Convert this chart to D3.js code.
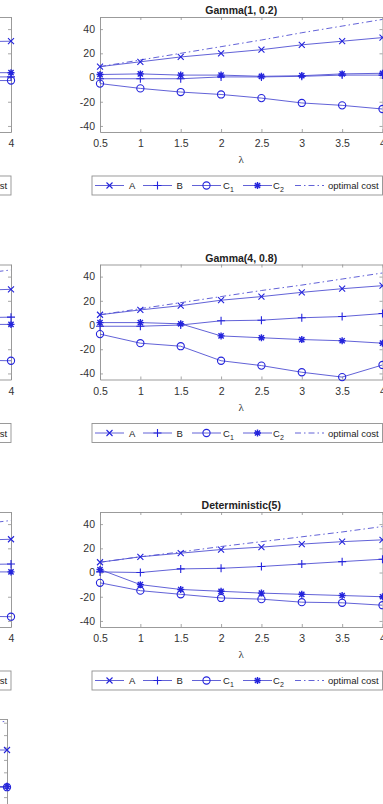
<!DOCTYPE html>
<html>
<head>
<meta charset="utf-8">
<script src="https://cdn.jsdelivr.net/npm/d3@7"></script>
<style>
  body { margin: 0; background: #fff; }
  svg { display: block; }
</style>
</head>
<body>
<svg id="chart" width="383" height="804"></svg>
<script>
	/* data */
	var lambda = [0.5, 1, 1.5, 2, 2.5, 3, 3.5, 4];
	var xTickLabels = ["0.5", "1", "1.5", "2", "2.5", "3", "3.5", "4"];
	var yTicks = [-40, -20, 0, 20, 40];
	var titles = ["Gamma(1, 0.2)", "Gamma(4, 0.8)", "Deterministic(5)"];
	var seriesNames = ["A", "B", "C1", "C2", "optimal cost"];

	var gamma1A   = [9, 13, 17, 20, 23, 27, 30, 33];
	var gamma1B   = [-1, -1, -1, 0.5, 0.5, 1, 2, 2];
	var gamma1C1  = [-5, -9, -12, -14, -17, -21, -23, -26];
	var gamma1C2  = [2.5, 3, 2, 2, 1, 1.5, 3, 3.5];
	var gamma1Opt = [9, 14.5, 20, 25.5, 31, 37, 42.5, 48];

	var gamma4A   = [8.5, 12.5, 16, 20.5, 23.5, 27, 30, 32.5];
	var gamma4B   = [-1, -1, 0, 3.5, 4, 6, 7, 9.5];
	var gamma4C1  = [-7.5, -15, -17.5, -29.5, -33.5, -39, -43, -33];
	var gamma4C2  = [2, 2, 1, -9, -10.5, -12, -13, -15];
	var gamma4Opt = [8.5, 13.5, 18.5, 23.5, 28.5, 33, 38, 43];

	var detA   = [8.5, 13, 16, 19, 21, 23.5, 25.5, 27];
	var detB   = [0.5, 0, 3, 3.5, 5, 7, 9, 11];
	var detC1  = [-8.5, -15, -18, -21, -22, -24.5, -25, -27];
	var detC2  = [2.5, -10, -14, -15.5, -17, -18, -19, -20];
	var detOpt = [8.5, 13, 17, 21.5, 25.5, 29.5, 33.5, 38];

	/* left column is cut off: only the last two points show */
	var tailLambda = [3.5, 4];
	var left1A = [29.5, 30], left1B = [0.5, 0.5], left1C1 = [-2.5, -2.5], left1C2 = [4, 4], left1Opt = [53, 57];
	var left2A = [28.5, 29.5], left2B = [6, 6.5], left2C1 = [-29, -29.5], left2C2 = [0.5, 0.5], left2Opt = [41.5, 45.5];
	var left3A = [26.5, 27.5], left3B = [6.5, 7], left3C1 = [-36, -36.5], left3C2 = [0.5, 0.5], left3Opt = [39, 43];
	var left4A = [38, 38], left4B = [8.5, 8.5], left4C1 = [8, 8], left4C2 = [8.5, 8.5], left4Opt = [60, 61];
	var left4Ticks = [0, 10, 20, 30, 40, 50, 60];

	var lineColor = "#5050d2", markColor = "#2424dc", boxColor = "#909090", textColor = "#333";
	var rowStep = 247.5;

	var svg = d3.select("#chart");

	var markers = {
		A:  "M-3,-3L3,3M-3,3L3,-3",
		B:  "M-4,0H4M0,-4V4",
		C1: "M3.6,0A3.6,3.6 0 1 1 -3.6,0A3.6,3.6 0 1 1 3.6,0",
		C2: "M-3.5,0H3.5M0,-3.5V3.5M-2.6,-2.6L2.6,2.6M-2.6,2.6L2.6,-2.6"
	};
	var clipId = 0;

	function drawPanel(p) {
		var g = svg.append("g");
		var x = d3.scaleLinear().domain([0.5, 4]).range([p.x0, p.x1]);
		var y = d3.scaleLinear().domain(p.yDomain).range([p.bottom, p.top]);

		// box with inward ticks on all four sides (plain hyphen minus like matlab)
		g.append("g").attr("transform", "translate(" + p.x0 + ",0)")
			.call(d3.axisLeft(y).tickValues(p.yTicks).tickSizeInner(-3).tickSizeOuter(0).tickPadding(5)
				.tickFormat(function(d) { return String(d); }));
		var axB = g.append("g").attr("transform", "translate(0," + p.bottom + ")")
			.call(d3.axisBottom(x).tickValues(lambda).tickSizeInner(-3).tickSizeOuter(0).tickPadding(8)
				.tickFormat(function(d, i) { return xTickLabels[i]; }));
		g.append("g").attr("transform", "translate(" + p.x1 + ",0)")
			.call(d3.axisRight(y).tickValues(p.yTicks).tickSizeInner(-3).tickSizeOuter(0).tickFormat(""));
		g.append("g").attr("transform", "translate(0," + p.top + ")")
			.call(d3.axisTop(x).tickValues(lambda).tickSizeInner(-3).tickSizeOuter(0).tickFormat(""));
		if (!p.showXLabels) axB.selectAll("text").remove();
		g.selectAll(".domain").attr("stroke", boxColor).attr("stroke-width", 0.9);
		g.selectAll(".tick line").attr("stroke", boxColor).attr("stroke-width", 0.8);
		g.selectAll(".tick text").attr("fill", textColor)
			.style("font-family", "'Liberation Sans', Arial, sans-serif").style("font-size", "10.5px");

		if (p.title) {
			g.append("text").attr("x", (p.x0 + p.x1) / 2).attr("y", p.top - 3)
				.attr("text-anchor", "middle").attr("fill", "#222")
				.style("font-family", "'Liberation Sans', Arial, sans-serif")
				.style("font-size", "10.5px").style("font-weight", "bold")
				.text(p.title);
		}
		if (p.showXLabels) {
			g.append("text").attr("x", (p.x0 + p.x1) / 2).attr("y", p.bottom + 31)
				.attr("text-anchor", "middle").attr("fill", textColor)
				.style("font-family", "'Liberation Serif', 'DejaVu Serif', serif").style("font-size", "11px")
				.text("\u03bb");
		}

		clipId++;
		g.append("clipPath").attr("id", "clip" + clipId).append("rect")
			.attr("x", p.x0).attr("y", p.top).attr("width", p.x1 - p.x0).attr("height", p.bottom - p.top);

		var line = d3.line().x(function(d) { return x(d[0]); }).y(function(d) { return y(d[1]); });
		var plot = g.append("g");
		function pairs(vals) { return p.lam.map(function(l, i) { return [l, vals[i]]; }); }

		plot.append("path").datum(pairs(p.series.Opt)).attr("d", line)
			.attr("clip-path", "url(#clip" + clipId + ")")
			.attr("fill", "none").attr("stroke", lineColor).attr("stroke-width", 0.9)
			.attr("stroke-dasharray", "6,3,1.5,3");

		["B", "C2", "C1", "A"].forEach(function(k) {
			var pts = pairs(p.series[k]);
			plot.append("path").datum(pts).attr("d", line)
				.attr("clip-path", "url(#clip" + clipId + ")")
				.attr("fill", "none").attr("stroke", lineColor).attr("stroke-width", 0.9);
			plot.selectAll(null).data(pts).enter().append("path")
				.attr("transform", function(d) { return "translate(" + x(d[0]) + "," + y(d[1]) + ")"; })
				.attr("d", markers[k])
				.attr("fill", "none").attr("stroke", markColor).attr("stroke-width", k == "C2" ? 1.4 : 1.1);
		});

		if (p.legend) {
			var lx = p.x0 - 8, ly = p.bottom + 44, lh = 19, cy = ly + lh / 2;
			var lg = g.append("g");
			lg.append("rect").attr("x", lx).attr("y", ly).attr("width", p.x1 - lx).attr("height", lh)
				.attr("fill", "#fff").attr("stroke", boxColor).attr("stroke-width", 0.9);
			var keys = ["A", "B", "C1", "C2", "Opt"];
			var lineStart = [3, 51, 100, 151, 203];
			var textStart = [37, 84.5, 131, 181, 236];
			keys.forEach(function(k, i) {
				var x1 = lx + lineStart[i], x2 = x1 + 29;
				lg.append("line").attr("x1", x1).attr("x2", x2).attr("y1", cy).attr("y2", cy)
					.attr("stroke", lineColor).attr("stroke-width", 0.9)
					.attr("stroke-dasharray", k == "Opt" ? "6,3,1.5,3" : null);
				if (markers[k]) {
					lg.append("path").attr("transform", "translate(" + ((x1 + x2) / 2) + "," + cy + ")")
						.attr("d", markers[k]).attr("fill", "none").attr("stroke", markColor)
						.attr("stroke-width", k == "C2" ? 1.4 : 1.1);
				}
				var t = lg.append("text").attr("x", lx + textStart[i]).attr("y", cy + 3.5).attr("fill", "#222")
					.style("font-family", "'Liberation Sans', Arial, sans-serif").style("font-size", "9.5px");
				var name = seriesNames[i];
				if (name.charAt(0) == "C") {
					t.append("tspan").text("C");
					t.append("tspan").attr("dy", 3).style("font-size", "7px").text(name.charAt(1));
				} else {
					t.text(name);
				}
			});
		}

		// texts of the cut-off column that lie wholly outside the window are not shown
		g.selectAll("text").each(function() {
			if (this.getBoundingClientRect().right < 0) d3.select(this).remove();
		});
	}

	var rightSeries = [
		{A: gamma1A, B: gamma1B, C1: gamma1C1, C2: gamma1C2, Opt: gamma1Opt},
		{A: gamma4A, B: gamma4B, C1: gamma4C1, C2: gamma4C2, Opt: gamma4Opt},
		{A: detA, B: detB, C1: detC1, C2: detC2, Opt: detOpt}
	];
	var leftSeries = [
		{A: left1A, B: left1B, C1: left1C1, C2: left1C2, Opt: left1Opt},
		{A: left2A, B: left2B, C1: left2C1, C2: left2C2, Opt: left2Opt},
		{A: left3A, B: left3B, C1: left3C1, C2: left3C2, Opt: left3Opt}
	];

	[0, 1, 2].forEach(function(r) {
		var top = 17 + r * rowStep, bottom = 132 + r * rowStep;
		drawPanel({x0: -271.5, x1: 11, top: top, bottom: bottom, yDomain: [-45, 50], yTicks: yTicks,
			lam: tailLambda, series: leftSeries[r], showXLabels: true, legend: true});
		drawPanel({x0: 100, x1: 382.5, top: top, bottom: bottom, yDomain: [-45, 50], yTicks: yTicks,
			lam: lambda, series: rightSeries[r], title: titles[r], showXLabels: true, legend: true});
	});

	// partial panel at the bottom left
	drawPanel({x0: -275, x1: 7, top: 719, bottom: 719 + 78 * 1.24, yDomain: [-15, 63], yTicks: left4Ticks,
		lam: tailLambda, series: {A: left4A, B: left4B, C1: left4C1, C2: left4C2, Opt: left4Opt},
		showXLabels: false, legend: false});
</script>
</body>
</html>
